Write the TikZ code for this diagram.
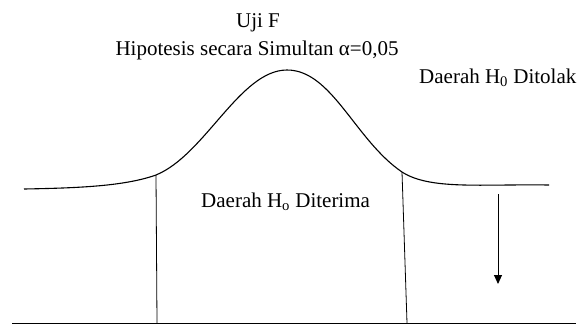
\documentclass[tikz,border=0pt]{standalone}
\usepackage{fontspec}
\setmainfont{Liberation Serif}
\usetikzlibrary{arrows.meta}
\tikzset{
  lbl/.style   = {font=\fontsize{21}{24}\selectfont, inner sep=0pt, anchor=base},
  curve/.style = {line width=1.1pt},
  plain/.style = {line width=0.8pt},
  wire/.style  = {-{Triangle[length=9pt,width=8pt]}, line width=1pt}
}
\begin{document}
\begin{tikzpicture}[x=1pt, y=-1pt]
\useasboundingbox (0,0) rectangle (580,325);

% ---------- titles ----------
\node[lbl] (title) at (258,27) {Uji F};
\node[lbl] (sub) at (257,55) {Hipotesis secara Simultan α=0,05};
\node[lbl, anchor=base west] (reject) at (419,83) {Daerah H\textsubscript{0} Ditolak};
\node[lbl, anchor=base west] (accept) at (201,207) {Daerah H\textsubscript{o} Diterima};

% ---------- bell curve ----------
\coordinate (lft) at (156,175);
\coordinate (rgt) at (402,172);
\draw[curve] (24,189) .. controls (80,188) and (125,186) .. (lft)
  .. controls (205,155) and (240,70) .. (287,70)
  .. controls (332,70) and (355,140) .. (rgt)
  .. controls (430,190) and (480,184) .. (549,185);

% ---------- critical lines and base ----------
\coordinate (base0) at (12,323);
\coordinate (base1) at (576,323);
\coordinate (lbot) at (157,323);
\coordinate (rbot) at (407,323);
\draw[plain] (lft) -- (lbot);
\draw[plain] (rgt) -- (rbot);
\draw[plain] (base0) -- (base1);

% ---------- arrow into the rejection region ----------
\coordinate (atop) at (498,194);
\coordinate (atip) at (498,284);
\draw[wire] (atop) -- (atip);

\end{tikzpicture}
\end{document}
